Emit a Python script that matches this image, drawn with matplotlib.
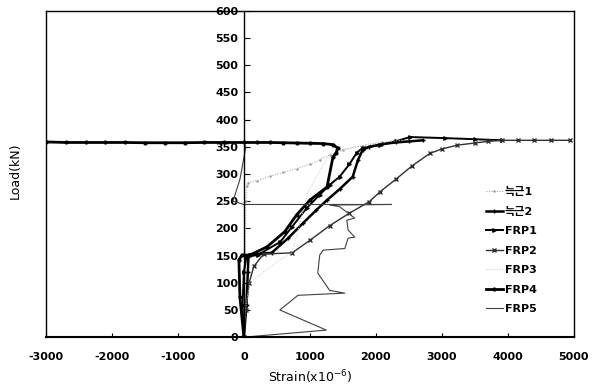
import matplotlib
matplotlib.use("Agg")
import matplotlib.pyplot as plt

plt.rcParams['font.family'] = ['DejaVu Sans', 'Noto Sans CJK KR']

# --- data (strain x10^-6, load kN) ---
s_bar1 = [0, 10, 20, 30, 40, 60, 200, 400, 600, 800, 1000, 1150, 1300, 1500, 1800, 2100, 2300]
l_bar1 = [0, 60, 150, 250, 278, 284, 288, 296, 303, 310, 318, 326, 335, 345, 352, 358, 362]

s_bar2 = [0, 40, 60, 70, 80, 420, 670, 900, 1100, 1260, 1450, 1650, 1730, 1800, 1900, 2100, 2300, 2500, 2710]
l_bar2 = [0, 60, 120, 150, 152, 155, 182, 210, 234, 252, 272, 295, 326, 344, 350, 355, 358, 360, 362]

s_frp1 = [0, -20, 0, 40, 210, 550, 730, 950, 1150, 1300, 1450, 1600, 1710, 1800, 2060, 2300, 2520, 3050, 3500, 3920]
l_frp1 = [0, 60, 120, 148, 151, 175, 203, 237, 262, 280, 295, 318, 339, 348, 353, 360, 368, 366, 364, 362]

s_frp2 = [0, 30, 80, 150, 300, 730, 1000, 1300, 1600, 1900, 2060, 2300, 2550, 2820, 3000, 3230, 3500, 3700, 3920, 4150, 4400, 4650, 4940]
l_frp2 = [0, 50, 100, 130, 153, 155, 178, 205, 228, 249, 267, 290, 315, 338, 346, 353, 357, 360, 362, 362, 362, 362, 362]

s_frp3 = [0, 20, 90, 300, 500, 730, 850, 970, 1150, 1300, 1700, 2000, 2400]
l_frp3 = [0, 50, 100, 120, 138, 155, 210, 267, 305, 335, 350, 358, 362]

s_frp4 = [0, -60, -75, -30, 90, 350, 620, 800, 1000, 1260, 1350, 1400, 1420, 1350, 1200, 1000, 800, 600, 400, 200, 0,
          -300, -600, -900, -1200, -1500, -1800, -2100, -2400, -2700, -3000]
l_frp4 = [0, 74, 142, 151, 151, 166, 194, 225, 252, 276, 331, 339, 348, 354, 356, 356.5, 357, 357.5, 358, 358, 358,
          358, 358, 357.5, 357.5, 357.5, 358, 358, 358, 358, 359]

s_frp5 = [0, 1250, 545, 820, 1530, 1300, 1120, 1150, 1200, 1530, 1580, 1680, 1580, 1560, 1680, 1580, 1450, 1300, 2240, 0,
          -165, -60, 0, 15, 30, 0]
l_frp5 = [0, 13, 50, 77, 81, 86, 118, 151, 160, 163, 182, 184, 197, 215, 219, 228, 240, 243, 244, 244,
          250, 290, 330, 340, 350, 357]

labels = ['늑근1', '늑근2', 'FRP1', 'FRP2', 'FRP3', 'FRP4', 'FRP5']
x_ticks = [-3000, -2000, -1000, 0, 1000, 2000, 3000, 4000, 5000]
y_ticks = [0, 50, 100, 150, 200, 250, 300, 350, 400, 450, 500, 550, 600]

fig = plt.figure(figsize=(5.97, 3.88), dpi=100)
ax = fig.add_axes([0.077, 0.131, 0.884, 0.841])

ax.plot(s_bar1, l_bar1, color='#9a9a9a', lw=0.7, ls=':', marker='.', ms=1.5, label=labels[0])
ax.plot(s_bar2, l_bar2, color='black', lw=1.8, marker='+', ms=3, label=labels[1])
ax.plot(s_frp1, l_frp1, color='black', lw=1.4, marker='>', ms=2.5, label=labels[2])
ax.plot(s_frp2, l_frp2, color='#303030', lw=1.0, marker='x', ms=2.5, label=labels[3])
ax.plot(s_frp3, l_frp3, color='#c8c8c8', lw=0.7, ls=':', label=labels[4])
ax.plot(s_frp4, l_frp4, color='black', lw=2.0, marker='o', ms=2, label=labels[5])
ax.plot(s_frp5, l_frp5, color='#404040', lw=0.8, label=labels[6])

ax.set_xlim(-3000, 5000)
ax.set_ylim(0, 600)
ax.set_xticks(x_ticks)
ax.set_yticks(y_ticks)
ax.set_xticklabels([str(v) for v in x_ticks])
ax.set_yticklabels([str(v) for v in y_ticks])

ax.spines['left'].set_position(('data', 0))
for sp in ax.spines.values():
    sp.set_linewidth(1.0)
ax.spines['bottom'].set_linewidth(1.5)
# outer frame
ax.plot([0, 0], [0, 1], transform=ax.transAxes, color='black', lw=1.0, clip_on=False)

ax.tick_params(axis='y', direction='in', length=4, pad=4, labelsize=8)
ax.tick_params(axis='x', direction='in', length=3, pad=11, labelsize=8)
for t in ax.get_xticklabels() + ax.get_yticklabels():
    t.set_fontweight('bold')

ax.set_ylabel('Load(kN)', fontsize=9)
ax.yaxis.set_label_coords(-0.045, 0.51, transform=ax.transAxes)
ax.set_xlabel('Strain(x10$^{-6}$)', fontsize=9, labelpad=4)

leg = ax.legend(loc='upper left', bbox_to_anchor=(0.815, 0.49), frameon=False,
                handlelength=1.5, handletextpad=0.2, labelspacing=0.85,
                prop={'family': ['DejaVu Sans', 'Noto Sans CJK KR'], 'size': 8, 'weight': 'bold'})

fig.savefig('out.png', dpi=100)
